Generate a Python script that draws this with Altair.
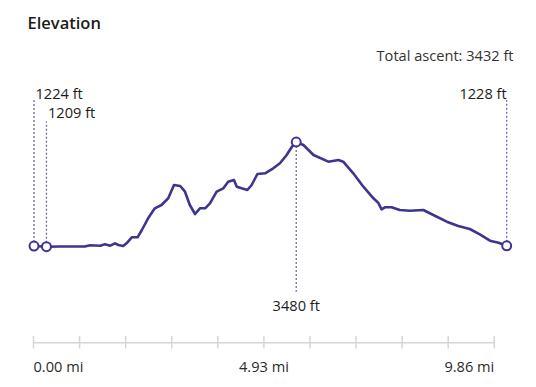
import altair as alt
import pandas as pd

# Elevation profile (miles, feet)
miles = [0.0, 0.26, 0.54, 1.06, 1.17, 1.38, 1.48, 1.59, 1.69, 1.76, 1.86, 1.93,
         2.04, 2.16, 2.25, 2.38, 2.52, 2.66, 2.80, 2.92, 3.05, 3.15, 3.25, 3.36,
         3.46, 3.57, 3.67, 3.81, 3.95, 4.05, 4.17, 4.23, 4.33, 4.45, 4.54, 4.66,
         4.82, 4.99, 5.13, 5.27, 5.38, 5.47, 5.62, 5.83, 6.14, 6.35, 6.45, 6.66,
         6.87, 7.08, 7.18, 7.25, 7.32, 7.46, 7.63, 7.84, 8.12, 8.33, 8.61, 8.85,
         9.09, 9.30, 9.51, 9.69, 9.86]
feet = [1224, 1209, 1212, 1212, 1239, 1231, 1261, 1231, 1283, 1246, 1224, 1283,
        1413, 1413, 1571, 1825, 2042, 2113, 2259, 2547, 2526, 2402, 2113, 1918,
        2042, 2042, 2150, 2402, 2476, 2619, 2656, 2510, 2476, 2439, 2547, 2786,
        2801, 2910, 3018, 3198, 3378, 3480, 3415, 3198, 3053, 3090, 3053, 2801,
        2510, 2259, 2163, 2020, 2064, 2064, 2005, 1990, 2005, 1897, 1751, 1658,
        1593, 1478, 1339, 1296, 1228]

# Marked points: start, lowest, highest, end
mark_mi = [0.0, 0.26, 5.47, 9.86]
mark_ft = [1224, 1209, 3480, 1228]
mark_label = ["1224 ft", "1209 ft", "3480 ft", "1228 ft"]
mark_kind = ["start", "low", "high", "end"]

# Distance axis
tick_mi = [round(i * 0.986, 3) for i in range(11)]
axis_labels = ["0.00 mi", "4.93 mi", "9.86 mi"]
axis_label_mi = [0.0, 4.93, 9.86]
axis_label_align = ["left", "center", "right"]

title_text = "Elevation"
ascent_text = "Total ascent: 3432 ft"

FONT = "Open Sans"
FS = 14.6
LINE = "#3d3590"
DOT = "#6f67b3"
TXT = "#1c1c1c"

df = pd.DataFrame({"mi": miles, "ft": feet})
mk = pd.DataFrame({"mi": mark_mi, "ft": mark_ft, "label": mark_label, "kind": mark_kind})
ticks = pd.DataFrame({"mi": tick_mi})
alabels = pd.DataFrame({"mi": axis_label_mi, "label": axis_labels, "al": axis_label_align})

xs = alt.Scale(domain=[0, 9.86], range=[26, 498.7])
ys = alt.Scale(domain=[1209, 3480], range=[238.7, 134])
axs = alt.Scale(domain=[0, 9.86], range=[25.5, 486.3])

X = alt.X("mi:Q", scale=xs, axis=None)
Y = alt.Y("ft:Q", scale=ys, axis=None)


def sub(kind):
    return mk[mk["kind"] == kind]


line = alt.Chart(df).mark_line(color=LINE, strokeWidth=2.6, strokeJoin="round").encode(x=X, y=Y)


def guide(kind, top):
    return alt.Chart(sub(kind)).mark_rule(color=DOT, strokeDash=[2, 2], strokeWidth=1.3).encode(
        x=X, y=Y, y2=alt.value(top))


def label(kind, align, ypix, dx=0):
    return alt.Chart(sub(kind)).mark_text(
        align=align, baseline="alphabetic", dx=dx, font=FONT, fontSize=FS, color=TXT).encode(
        x=X, y=alt.value(ypix), text="label:N")


pts = alt.Chart(mk).mark_point(shape="circle", size=80, filled=True, fill="white",
                               stroke=LINE, strokeWidth=2, opacity=1).encode(x=X, y=Y)

AX = alt.X("mi:Q", scale=axs, axis=None)
axis_line = alt.Chart(ticks).mark_rule(color="#d9d5d2", strokeWidth=1.5).encode(
    x=alt.X("min(mi):Q", scale=axs, axis=None), x2=alt.X2("max(mi):Q"), y=alt.value(334.7))
axis_ticks = alt.Chart(ticks).mark_rule(color="#d9d5d2", strokeWidth=1.5).encode(
    x=AX, y=alt.value(328), y2=alt.value(340.5))


def axis_text(align):
    return alt.Chart(alabels[alabels["al"] == align]).mark_text(
        align=align, baseline="alphabetic", font=FONT, fontSize=FS, color="#2b2b2b").encode(
        x=AX, y=alt.value(363.5), text="label:N")


title = alt.Chart(pd.DataFrame({"t": [title_text]})).mark_text(
    align="left", baseline="alphabetic", font=FONT, fontSize=16.5, fontWeight=600, color=TXT).encode(
    x=alt.value(19.5), y=alt.value(21), text="t:N")
ascent = alt.Chart(pd.DataFrame({"t": [ascent_text]})).mark_text(
    align="right", baseline="alphabetic", font=FONT, fontSize=FS, color="#333333").encode(
    x=alt.value(505.5), y=alt.value(52.5), text="t:N")

chart = alt.layer(
    axis_line, axis_ticks, axis_text("left"), axis_text("center"), axis_text("right"),
    guide("start", 92), guide("low", 113.5), guide("end", 92), guide("high", 283.7),
    line, pts,
    label("start", "left", 91, dx=1.5),
    label("low", "left", 109.5, dx=1.5),
    label("end", "right", 91),
    label("high", "center", 302.7),
    title, ascent
).resolve_scale(x="independent", y="independent").properties(
    width=520, height=371, padding=0, autosize="none"
).configure_view(stroke=None)

chart.save("out.html", embed_options={"renderer": "svg", "actions": False})
